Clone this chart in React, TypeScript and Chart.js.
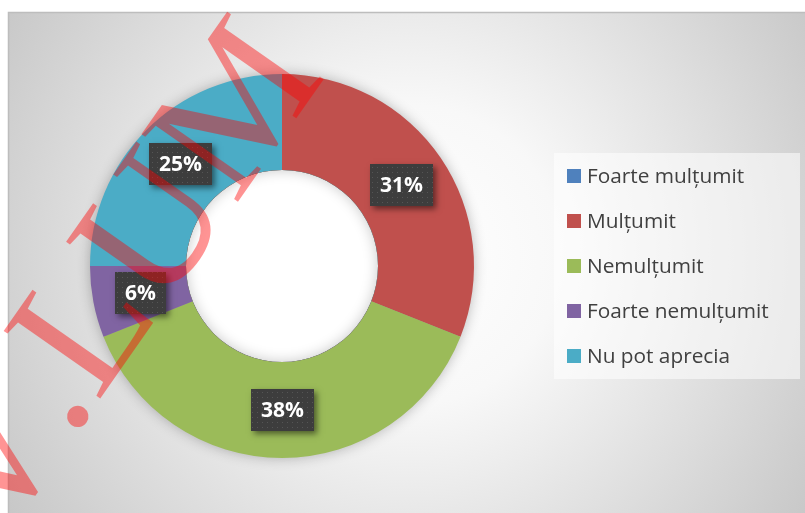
import { useEffect, useRef } from "react";
import { Chart, registerables } from "chart.js";

Chart.register(...registerables);

const categories = ["Foarte mulțumit", "Mulțumit", "Nemulțumit", "Foarte nemulțumit", "Nu pot aprecia"];
const shares = [0, 31, 38, 6, 25];
const colors = ["#4F81BD", "#C0504D", "#9BBB59", "#8064A2", "#4BACC6"];
const watermarkText = "V.LUM";

const UI_FONT = "'Open Sans', 'Noto Sans', sans-serif";

function makeDotPattern(ctx: CanvasRenderingContext2D) {
  const c = document.createElement("canvas");
  c.width = 5;
  c.height = 5;
  const p = c.getContext("2d")!;
  p.fillStyle = "#3d3d3d";
  p.fillRect(0, 0, 5, 5);
  p.fillStyle = "#555555";
  p.fillRect(2, 2, 1, 1);
  return ctx.createPattern(c, "repeat") || "#3d3d3d";
}

const backgroundPlugin = {
  id: "frameBackground",
  beforeDraw(chart: any) {
    const ctx: CanvasRenderingContext2D = chart.ctx;
    const W = chart.width;
    const H = chart.height;
    ctx.save();
    ctx.fillStyle = "#ffffff";
    ctx.fillRect(0, 0, W, H);
    const g = ctx.createRadialGradient(410, 255, 0, 410, 255, 500);
    g.addColorStop(0, "#ffffff");
    g.addColorStop(0.3, "#f8f8f8");
    g.addColorStop(1, "#c4c4c4");
    ctx.fillStyle = g;
    ctx.fillRect(8, 12, W - 8, H - 12);
    ctx.strokeStyle = "#bdbdbd";
    ctx.lineWidth = 1.5;
    ctx.beginPath();
    ctx.moveTo(8.5, H);
    ctx.lineTo(8.5, 12.5);
    ctx.lineTo(W, 12.5);
    ctx.stroke();
    ctx.restore();
  },
};

const ringShadowPlugin = {
  id: "ringShadow",
  beforeDatasetsDraw(chart: any) {
    const meta = chart.getDatasetMeta(0);
    const arc = meta.data.find((a: any) => a && a.outerRadius > 0);
    if (!arc) return;
    const ctx: CanvasRenderingContext2D = chart.ctx;
    const { x, y, outerRadius } = arc;
    ctx.save();
    ctx.shadowColor = "rgba(0,0,0,0.30)";
    ctx.shadowBlur = 14;
    ctx.fillStyle = "#9a9a9a";
    ctx.beginPath();
    ctx.arc(x, y, outerRadius - 1, 0, Math.PI * 2);
    ctx.fill();
    ctx.restore();
  },
  afterDatasetsDraw(chart: any) {
    const meta = chart.getDatasetMeta(0);
    const arc = meta.data.find((a: any) => a && a.outerRadius > 0);
    if (!arc) return;
    const ctx: CanvasRenderingContext2D = chart.ctx;
    const { x, y, innerRadius } = arc;
    ctx.save();
    ctx.beginPath();
    ctx.arc(x, y, innerRadius, 0, Math.PI * 2);
    ctx.clip();
    ctx.fillStyle = "#ffffff";
    ctx.fillRect(x - innerRadius, y - innerRadius, innerRadius * 2, innerRadius * 2);
    ctx.shadowColor = "rgba(0,0,0,0.22)";
    ctx.shadowBlur = 14;
    ctx.fillStyle = "#000";
    ctx.beginPath();
    ctx.arc(x, y, innerRadius + 60, 0, Math.PI * 2);
    ctx.arc(x, y, innerRadius, 0, Math.PI * 2, true);
    ctx.fill();
    ctx.restore();
  },
};

const labelPlugin = {
  id: "percentLabels",
  afterDatasetsDraw(chart: any) {
    const ctx: CanvasRenderingContext2D = chart.ctx;
    const data: number[] = chart.data.datasets[0].data;
    const total = data.reduce((s, v) => s + v, 0);
    const meta = chart.getDatasetMeta(0);
    const pattern = makeDotPattern(ctx);
    ctx.save();
    ctx.font = `bold 21px ${UI_FONT}`;
    meta.data.forEach((el: any, i: number) => {
      const v = data[i];
      if (!v) return;
      const text = `${Math.round((v / total) * 100)}%`;
      const { x, y } = el.tooltipPosition();
      const tw = ctx.measureText(text).width;
      const w = Math.round(tw + 20);
      const h = 42;
      const bx = Math.round(x - w / 2);
      const by = Math.round(y - h / 2);
      ctx.save();
      ctx.shadowColor = "rgba(0,0,0,0.5)";
      ctx.shadowBlur = 6;
      ctx.shadowOffsetX = 3;
      ctx.shadowOffsetY = 3;
      ctx.fillStyle = "#3d3d3d";
      ctx.fillRect(bx, by, w, h);
      ctx.restore();
      ctx.fillStyle = pattern as any;
      ctx.fillRect(bx, by, w, h);
      ctx.fillStyle = "#ffffff";
      ctx.textAlign = "center";
      ctx.textBaseline = "middle";
      ctx.fillText(text, bx + w / 2, by + h / 2 + 1);
    });
    ctx.restore();
  },
};

const legendPlugin = {
  id: "sideLegend",
  afterDraw(chart: any) {
    const ctx: CanvasRenderingContext2D = chart.ctx;
    const labels: string[] = chart.data.labels;
    const bg: string[] = chart.data.datasets[0].backgroundColor;
    ctx.save();
    ctx.fillStyle = "rgba(255,255,255,0.55)";
    ctx.fillRect(554, 153, 246, 226);
    ctx.font = `20.8px ${UI_FONT}`;
    ctx.textBaseline = "middle";
    ctx.textAlign = "left";
    labels.forEach((lab, i) => {
      const cy = 176 + i * 45;
      ctx.fillStyle = bg[i];
      ctx.fillRect(567, cy - 7, 14, 14);
      ctx.fillStyle = "#404040";
      ctx.fillText(lab, 587, cy + 1);
    });
    ctx.restore();
  },
};

const watermarkPlugin = {
  id: "watermark",
  afterDraw(chart: any) {
    const ctx: CanvasRenderingContext2D = chart.ctx;
    ctx.save();
    ctx.translate(-3, 546);
    ctx.rotate((-55 * Math.PI) / 180);
    ctx.font = "180px 'Liberation Serif', 'DejaVu Serif', serif";
    (ctx as any).fontKerning = "none";
    ctx.fillStyle = "rgba(255,0,0,0.42)";
    ctx.textAlign = "left";
    ctx.textBaseline = "alphabetic";
    ctx.fillText(watermarkText, 0, 0);
    ctx.restore();
  },
};

export default function App() {
  const canvasRef = useRef<HTMLCanvasElement | null>(null);

  useEffect(() => {
    if (!canvasRef.current) return;
    const chart = new Chart(canvasRef.current, {
      type: "doughnut",
      data: {
        labels: categories,
        datasets: [
          {
            data: shares,
            backgroundColor: colors,
            borderWidth: 0,
          },
        ],
      },
      options: {
        responsive: false,
        animation: false,
        cutout: "50%",
        layout: { padding: { left: 90, top: 74, right: 331, bottom: 55 } },
        plugins: {
          legend: { display: false },
          tooltip: { enabled: false },
        },
      },
      plugins: [backgroundPlugin, ringShadowPlugin, labelPlugin, legendPlugin, watermarkPlugin],
    });
    return () => chart.destroy();
  }, []);

  return (
    <canvas
      ref={canvasRef}
      width={805}
      height={513}
      style={{ position: "fixed", left: 0, top: 0, display: "block" }}
    />
  );
}
